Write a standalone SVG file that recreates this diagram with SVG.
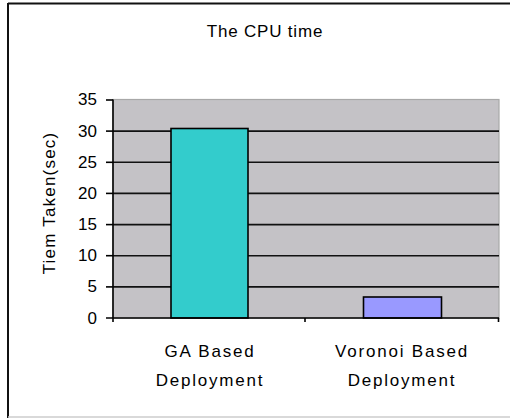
<svg xmlns="http://www.w3.org/2000/svg" width="510" height="418" viewBox="0 0 510 418">
  <style>
    text { font-family: "Liberation Sans", Arial, sans-serif; fill: #000; }
    .title { font-size: 17px; letter-spacing: 0.8px; }
    .tick { font-size: 17px; text-anchor: end; }
    .cat { font-size: 17px; text-anchor: middle; letter-spacing: 1.8px; }
    .axis-title { font-size: 17px; text-anchor: middle; letter-spacing: 1.2px; }
    .grid { stroke: #111; stroke-width: 1.6; }
    .axis { stroke: #000; stroke-width: 1.6; fill: none; }
    .bar { stroke: #000; stroke-width: 1.6; }
  </style>

  <!-- chart frame -->
  <rect x="0" y="0" width="510" height="418" fill="#fff"/>
  <line x1="8" y1="3.5" x2="510" y2="3.5" stroke="#111" stroke-width="2"/>
  <line x1="8" y1="3" x2="8" y2="418" stroke="#111" stroke-width="2"/>
  <line x1="8" y1="417" x2="510" y2="417" stroke="#ccc" stroke-width="1.5"/>

  <!-- title -->
  <text class="title" x="265" y="37" text-anchor="middle">The CPU time</text>

  <!-- plot area -->
  <rect id="plot" x="113" y="99.5" width="386" height="218.5" fill="#c4c2c6" stroke="#a8a8a8" stroke-width="1.2"/>

  <!-- gridlines -->
  <g id="gridlines">
    <line class="grid" x1="113" y1="131.1" x2="499" y2="131.1"/>
    <line class="grid" x1="113" y1="162.3" x2="499" y2="162.3"/>
    <line class="grid" x1="113" y1="193.4" x2="499" y2="193.4"/>
    <line class="grid" x1="113" y1="224.6" x2="499" y2="224.6"/>
    <line class="grid" x1="113" y1="255.7" x2="499" y2="255.7"/>
    <line class="grid" x1="113" y1="286.9" x2="499" y2="286.9"/>
  </g>

  <!-- bars -->
  <g id="bar-ga">
    <rect class="bar" x="171" y="128.5" width="77" height="189.5" fill="#33cccc"/>
  </g>
  <g id="bar-voronoi">
    <rect class="bar" x="363.5" y="297" width="78" height="21" fill="#9999ff"/>
  </g>

  <!-- axes and ticks -->
  <g id="axes">
    <line class="axis" x1="113" y1="99.5" x2="113" y2="322"/>
    <line class="axis" x1="106" y1="318" x2="499" y2="318"/>
    <line class="axis" x1="106" y1="100" x2="113" y2="100"/>
    <line class="axis" x1="106" y1="131.1" x2="113" y2="131.1"/>
    <line class="axis" x1="106" y1="162.3" x2="113" y2="162.3"/>
    <line class="axis" x1="106" y1="193.4" x2="113" y2="193.4"/>
    <line class="axis" x1="106" y1="224.6" x2="113" y2="224.6"/>
    <line class="axis" x1="106" y1="255.7" x2="113" y2="255.7"/>
    <line class="axis" x1="106" y1="286.9" x2="113" y2="286.9"/>
    <line class="axis" x1="305" y1="318" x2="305" y2="322"/>
    <line class="axis" x1="498.5" y1="318" x2="498.5" y2="322"/>
  </g>

  <!-- y tick labels -->
  <g id="y-labels">
    <text class="tick" x="97" y="105">35</text>
    <text class="tick" x="97" y="136.5">30</text>
    <text class="tick" x="97" y="167.5">25</text>
    <text class="tick" x="97" y="198.5">20</text>
    <text class="tick" x="97" y="230">15</text>
    <text class="tick" x="97" y="261">10</text>
    <text class="tick" x="97" y="292">5</text>
    <text class="tick" x="97" y="323.5">0</text>
  </g>

  <!-- axis title -->
  <text class="axis-title" transform="translate(55 203) rotate(-90)">Tiem Taken(sec)</text>

  <!-- category labels -->
  <g id="x-labels">
    <text class="cat" x="210" y="357">GA Based</text>
    <text class="cat" x="210" y="386">Deployment</text>
    <text class="cat" x="402" y="357">Voronoi Based</text>
    <text class="cat" x="402" y="386">Deployment</text>
  </g>
</svg>
